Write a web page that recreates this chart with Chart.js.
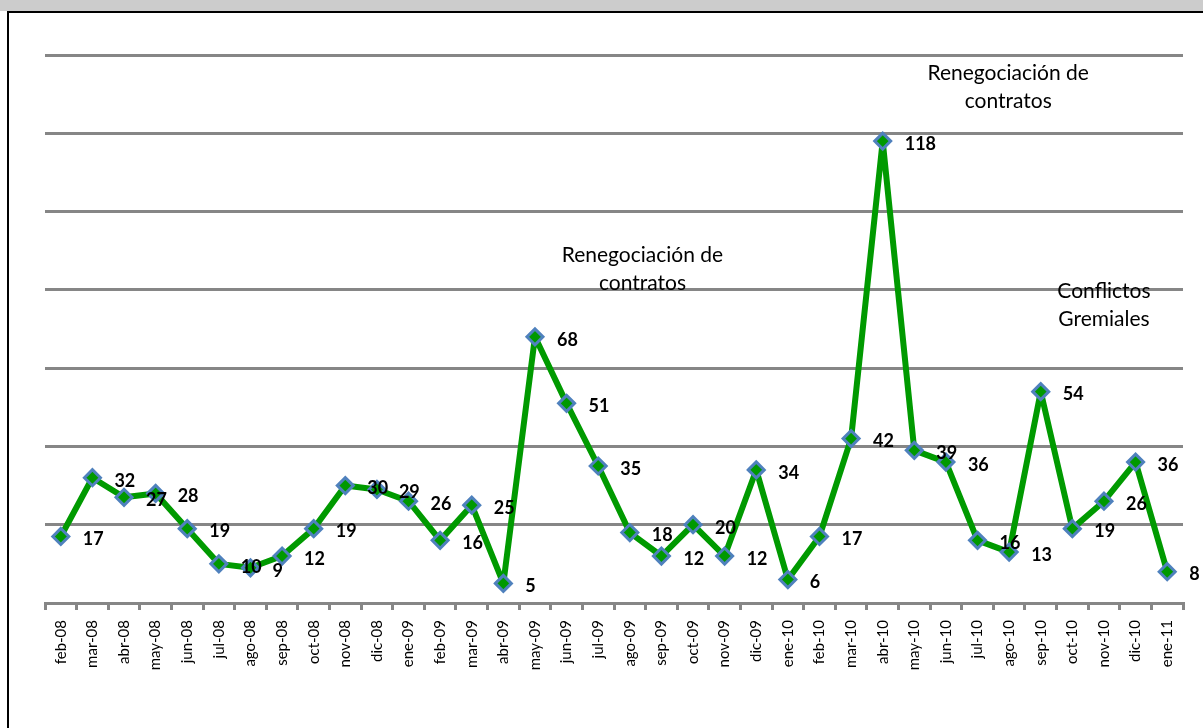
<!DOCTYPE html>
<html lang="es">

<head>
    <meta charset="UTF-8">
    <title>Conflictos</title>
    <script src="https://cdn.jsdelivr.net/npm/chart.js"></script>
    <style>
        body { margin: 0; background: #fff; }
        #band { position: absolute; left: 0; top: 0; width: 1203px; height: 11px; background: #cccccc; }
        #frame { position: absolute; left: 7px; top: 11px; width: 1196px; height: 717px; border-left: 2px solid #000; border-top: 2px solid #000; box-sizing: border-box; }
        #wrap { position: absolute; left: 0; top: 0; width: 1203px; height: 728px; }
    </style>
</head>

<body>
    <div id="band"></div>
    <div id="frame"></div>
    <div id="wrap">
        <canvas id="myChart"></canvas>
    </div>

    <script>
        // meses (feb-08 .. ene-11)
        const labels = [
            'feb-08', 'mar-08', 'abr-08', 'may-08', 'jun-08', 'jul-08', 'ago-08', 'sep-08', 'oct-08', 'nov-08', 'dic-08',
            'ene-09', 'feb-09', 'mar-09', 'abr-09', 'may-09', 'jun-09', 'jul-09', 'ago-09', 'sep-09', 'oct-09', 'nov-09', 'dic-09',
            'ene-10', 'feb-10', 'mar-10', 'abr-10', 'may-10', 'jun-10', 'jul-10', 'ago-10', 'sep-10', 'oct-10', 'nov-10', 'dic-10',
            'ene-11'
        ];

        const valores = [
            17, 32, 27, 28, 19, 10, 9, 12, 19, 30, 29,
            26, 16, 25, 5, 68, 51, 35, 18, 12, 20, 12, 34,
            6, 17, 42, 118, 39, 36, 16, 13, 54, 19, 26, 36,
            8
        ];

        // notas: texto, posicion en indice de mes y valor
        const notasTexto = [['Renegociación de', 'contratos'], ['Renegociación de', 'contratos'], ['Conflictos', 'Gremiales']];
        const notasX = [29.97, 18.4, 33.0];
        const notasY = [131.8, 85.3, 76.1];

        const yTicks = [0, 20, 40, 60, 80, 100, 120, 140];

        // etiquetas de valor junto a cada punto
        const valueLabels = {
            id: 'valueLabels',
            afterDatasetsDraw(chart) {
                const c = chart.ctx;
                const meta = chart.getDatasetMeta(0);
                c.save();
                c.font = 'bold 18px Lato';
                c.fillStyle = '#000';
                c.textAlign = 'left';
                c.textBaseline = 'middle';
                meta.data.forEach((pt, i) => {
                    c.fillText(valores[i], pt.x + 22, pt.y + 3);
                });
                c.restore();
            }
        };

        const notas = {
            id: 'notas',
            afterDatasetsDraw(chart) {
                const c = chart.ctx;
                const xs = chart.scales.x, ys = chart.scales.y;
                c.save();
                c.font = '21px Lato';
                c.fillStyle = '#000';
                c.textAlign = 'center';
                c.textBaseline = 'middle';
                notasTexto.forEach((lines, i) => {
                    const x = xs.getPixelForValue(notasX[i]);
                    const y = ys.getPixelForValue(notasY[i]);
                    c.fillText(lines[0], x, y - 14);
                    c.fillText(lines[1], x, y + 14);
                });
                c.restore();
            }
        };

        const ctx = document.getElementById('myChart');

        new Chart(ctx, {
            type: 'line',
            data: {
                labels: labels,
                datasets: [{
                    label: 'Conflictos',
                    data: valores,
                    borderColor: '#009a00',
                    borderWidth: 6,
                    borderJoinStyle: 'round',
                    pointStyle: 'rectRot',
                    pointRadius: 8,
                    pointBorderWidth: 3,
                    pointBackgroundColor: '#009900',
                    pointBorderColor: '#4f81bd',
                    tension: 0,
                }]
            },
            options: {
                responsive: true,
                maintainAspectRatio: false,
                animation: false,
                layout: { padding: { left: 45, right: 20, top: 55, bottom: 0 } },
                plugins: {
                    legend: { display: false },
                    tooltip: { enabled: false },
                },
                scales: {
                    x: {
                        offset: true,
                        grid: { offset: true, drawOnChartArea: false, drawTicks: true, tickLength: 7, color: '#868686', lineWidth: 3 },
                        border: { color: '#868686', width: 3 },
                        ticks: {
                            autoSkip: false,
                            maxRotation: 90,
                            minRotation: 90,
                            color: '#000',
                            font: { family: 'Lato', size: 15 },
                            padding: 10,
                        },
                        afterFit: (s) => { s.height = 125; },
                    },
                    y: {
                        min: 0,
                        max: 140,
                        afterBuildTicks: (s) => { s.ticks = yTicks.map(v => ({ value: v })); },
                        grid: { color: (g) => g.tick.value === 0 ? 'rgba(0,0,0,0)' : '#868686', lineWidth: 3, drawTicks: false },
                        border: { display: false },
                        ticks: { display: false },
                        afterFit: (s) => { s.width = 0; },
                    }
                }
            },
            plugins: [valueLabels, notas]
        });
    </script>
</body>

</html>
